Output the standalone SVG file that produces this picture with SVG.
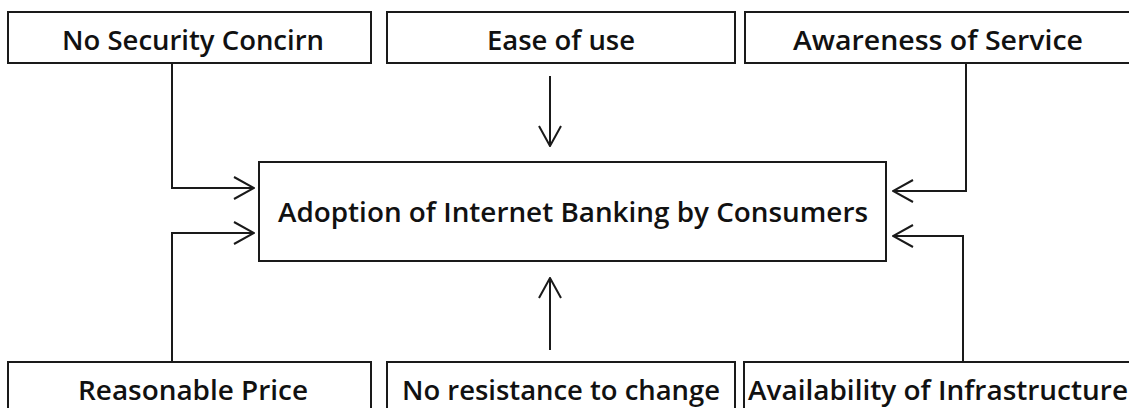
<svg xmlns="http://www.w3.org/2000/svg" width="1129" height="408" viewBox="0 0 1129 408">
<style>
.box{fill:#fff;stroke:#1a1a1a;stroke-width:2}
.lbl{font-family:"Open Sans","Noto Sans","Liberation Sans",sans-serif;font-size:27px;font-weight:600;fill:#111;text-anchor:middle}
.con{fill:none;stroke:#1a1a1a;stroke-width:2}
</style>
<defs>
<marker id="arr" viewBox="0 0 22 24" refX="21" refY="12" markerWidth="22" markerHeight="24" markerUnits="userSpaceOnUse" orient="auto">
<path d="M1,1 L21,12 L1,23" fill="none" stroke="#1a1a1a" stroke-width="2"/>
</marker>
</defs>
<rect width="1129" height="408" fill="#fff"/>
<g id="n-security"><rect class="box" x="8" y="12" width="363" height="51"/><text class="lbl" x="193" y="50" textLength="262" lengthAdjust="spacingAndGlyphs">No Security Concirn</text></g>
<g id="n-ease"><rect class="box" x="387" y="12" width="348" height="51"/><text class="lbl" x="561" y="50" textLength="148" lengthAdjust="spacingAndGlyphs">Ease of use</text></g>
<g id="n-awareness"><rect class="box" x="745" y="12" width="390" height="51"/><text class="lbl" x="938" y="50" textLength="290" lengthAdjust="spacingAndGlyphs">Awareness of Service</text></g>
<g id="n-adoption"><rect class="box" x="259" y="162" width="627" height="99"/><text class="lbl" x="573" y="222" textLength="590" lengthAdjust="spacingAndGlyphs">Adoption of Internet Banking by Consumers</text></g>
<g id="n-price"><rect class="box" x="8" y="362" width="363" height="60"/><text class="lbl" x="193" y="400" textLength="230" lengthAdjust="spacingAndGlyphs">Reasonable Price</text></g>
<g id="n-resistance"><rect class="box" x="387" y="362" width="348" height="60"/><text class="lbl" x="561" y="400" textLength="318" lengthAdjust="spacingAndGlyphs">No resistance to change</text></g>
<g id="n-infra"><rect class="box" x="744" y="362" width="390" height="60"/><text class="lbl" x="938" y="400" textLength="380" lengthAdjust="spacingAndGlyphs">Availability of Infrastructure</text></g>
<g id="connectors">
<path class="con" d="M172,63 V188 H254" marker-end="url(#arr)"/>
<path class="con" d="M172,362 V233 H254" marker-end="url(#arr)"/>
<path class="con" d="M550,76 V146" marker-end="url(#arr)"/>
<path class="con" d="M550,350 V278" marker-end="url(#arr)"/>
<path class="con" d="M966,63 V191 H893" marker-end="url(#arr)"/>
<path class="con" d="M963,362 V236 H893" marker-end="url(#arr)"/>
</g>
</svg>
